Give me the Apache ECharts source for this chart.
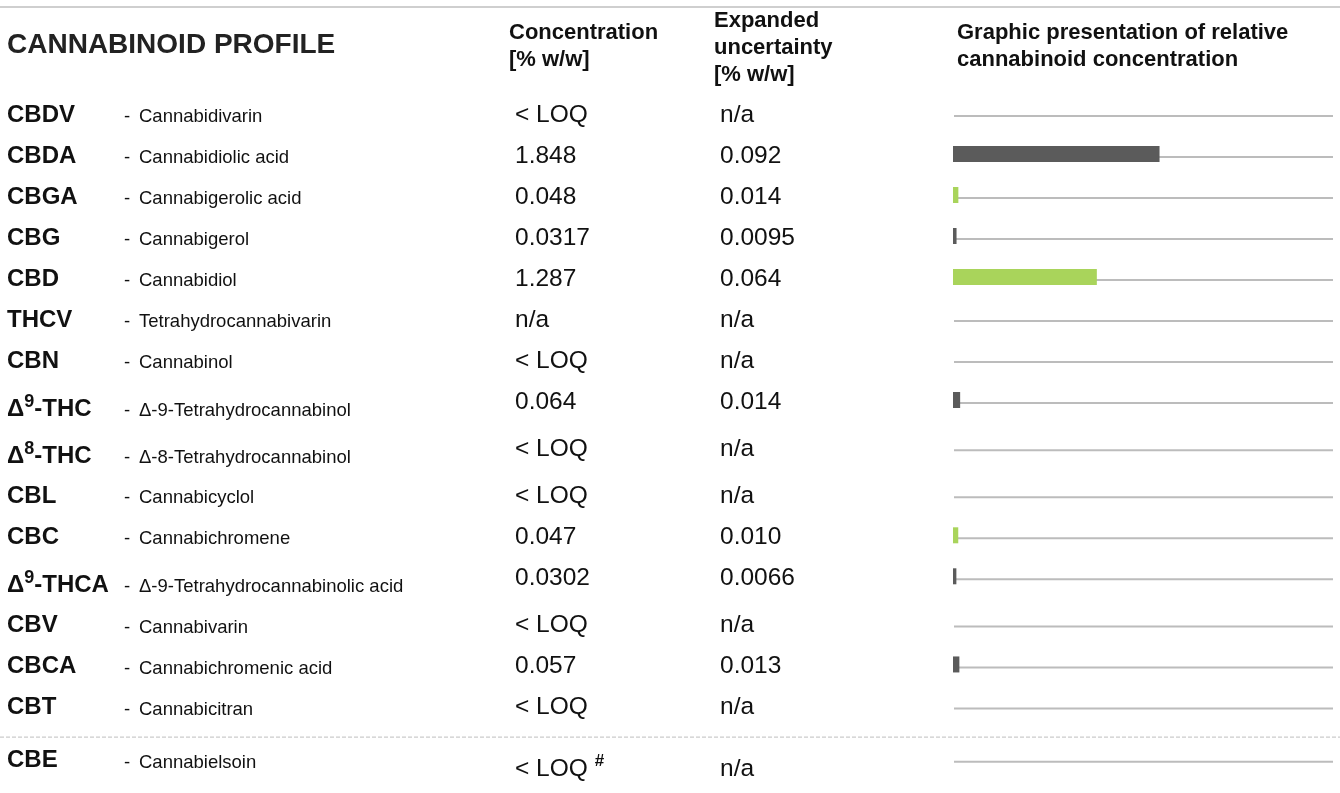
<!DOCTYPE html>
<html>
<head>
<meta charset="utf-8">
<title>Cannabinoid profile</title>
<script src="https://cdn.jsdelivr.net/npm/echarts@6/dist/echarts.min.js"></script>
<style>
html, body { margin: 0; padding: 0; background: #fff; }
#chart { width: 1340px; height: 793px; }
</style>
</head>
<body>
<div id="chart"></div>
<script>
const codes = ['CBDV', 'CBDA', 'CBGA', 'CBG', 'CBD', 'THCV', 'CBN', 'Δ9-THC', 'Δ8-THC', 'CBL', 'CBC', 'Δ9-THCA', 'CBV', 'CBCA', 'CBT', 'CBE']
const names = ['Cannabidivarin', 'Cannabidiolic acid', 'Cannabigerolic acid', 'Cannabigerol', 'Cannabidiol',
  'Tetrahydrocannabivarin', 'Cannabinol', 'Δ-9-Tetrahydrocannabinol', 'Δ-8-Tetrahydrocannabinol', 'Cannabicyclol',
  'Cannabichromene', 'Δ-9-Tetrahydrocannabinolic acid', 'Cannabivarin', 'Cannabichromenic acid', 'Cannabicitran', 'Cannabielsoin']
const concentrationText = ['< LOQ', '1.848', '0.048', '0.0317', '1.287', 'n/a', '< LOQ', '0.064', '< LOQ', '< LOQ',
  '0.047', '0.0302', '< LOQ', '0.057', '< LOQ', '< LOQ #']
const uncertaintyText = ['n/a', '0.092', '0.014', '0.0095', '0.064', 'n/a', 'n/a', '0.014', 'n/a', 'n/a',
  '0.010', '0.0066', 'n/a', '0.013', 'n/a', 'n/a']
// numeric concentration [% w/w], null = not quantified
const concentration = [null, 1.848, 0.048, 0.0317, 1.287, null, null, 0.064, null, null, 0.047, 0.0302, null, 0.057, null, null]
const greenCodes = ['CBGA', 'CBD', 'CBC']

const FONT = '"Liberation Sans", Arial, Helvetica, sans-serif'
const TEXT = '#111'

// rows with a superscript code are a bit taller, the last row sits below a separator
const supCode = c => /Δ\d/.test(c)
const slots = []
let pos = 0
codes.forEach((c, i) => {
  if (i === codes.length - 1) pos += 0.3
  slots.push(pos)
  pos += supCode(c) ? 1.15 : 1
})

// turn "Δ9-THC" / "< LOQ #" into rich text with a raised part
function richCode(c) {
  return c.replace(/Δ(\d)/, 'Δ{sup|$1}')
}
function richValue(v) {
  return v.replace(/ #$/, ' {sup|#}')
}

const myChart = echarts.init(document.getElementById('chart'))

const option = {
  animation: false,
  backgroundColor: '#fff',
  grid: { left: 953, right: 7, top: 116, height: 656 },
  xAxis: { type: 'value', min: 0, max: 3.4, show: false },
  yAxis: { type: 'value', min: 0, max: 16, inverse: true, show: false },
  graphic: [
    { type: 'line', shape: { x1: 0, y1: 7, x2: 1340, y2: 7 }, style: { stroke: '#cfcfcf', lineWidth: 2 } },
    { type: 'text', x: 7, y: 45, style: { text: 'CANNABINOID PROFILE', font: 'bold 28px ' + FONT, fill: '#222', verticalAlign: 'middle' } },
    { type: 'text', x: 509, y: 19, style: { text: 'Concentration\n[% w/w]', font: 'bold 22px ' + FONT, lineHeight: 27, fill: TEXT } },
    { type: 'text', x: 714, y: 7, style: { text: 'Expanded\nuncertainty\n[% w/w]', font: 'bold 22px ' + FONT, lineHeight: 27, fill: TEXT } },
    { type: 'text', x: 957, y: 19, style: { text: 'Graphic presentation of relative\ncannabinoid concentration', font: 'bold 22px ' + FONT, lineHeight: 27, fill: TEXT } }
  ],
  series: [
    {
      name: 'bars',
      type: 'custom',
      data: slots.map((s, i) => [concentration[i] || 0, s]),
      renderItem(params, api) {
        const i = params.dataIndex
        const p = api.coord([0, api.value(1)])
        const xEnd = params.coordSys.x + params.coordSys.width
        const children = [{
          type: 'line',
          shape: { x1: p[0] + 1, y1: p[1], x2: xEnd, y2: p[1] },
          style: { stroke: '#bcbcbc', lineWidth: 2 }
        }]
        if (concentration[i] != null) {
          const w = api.size([concentration[i], 0])[0]
          children.push({
            type: 'rect',
            shape: { x: p[0], y: p[1] - 11, width: w, height: 16 },
            style: { fill: greenCodes.includes(codes[i]) ? '#a9d45b' : '#5b5b5b' }
          })
        }
        return { type: 'group', children }
      }
    },
    {
      name: 'table',
      type: 'custom',
      data: slots.map(s => [0, s]),
      renderItem(params, api) {
        const i = params.dataIndex
        const y = api.coord([0, api.value(1)])[1]
        const codeShift = supCode(codes[i]) ? 7 : 0
        const valShift = /#/.test(concentrationText[i]) ? 8 : 0
        const sup = { fontSize: 18, fontWeight: 'bold', fontFamily: FONT, lineHeight: 18, verticalAlign: 'top' }
        const children = [
          {
            type: 'text', x: 7, y: y - 1 + codeShift,
            style: {
              text: richCode(codes[i]), fontSize: 24, fontWeight: 'bold', fontFamily: FONT, lineHeight: 32,
              fill: TEXT, verticalAlign: 'middle', rich: { sup }
            }
          },
          {
            type: 'text', x: 124, y: y + 1 + codeShift,
            style: { text: '-', fontSize: 18.5, fontFamily: FONT, fill: TEXT, verticalAlign: 'middle' }
          },
          {
            type: 'text', x: 139, y: y + 1 + codeShift,
            style: { text: names[i], fontSize: 18.5, fontFamily: FONT, fill: TEXT, verticalAlign: 'middle' }
          },
          {
            type: 'text', x: 515, y: y - 1 + valShift,
            style: {
              text: richValue(concentrationText[i]), fontSize: 24.5, fontFamily: FONT, lineHeight: 32,
              fill: TEXT, verticalAlign: 'middle', rich: { sup: Object.assign({}, sup, { fontSize: 17 }) }
            }
          },
          {
            type: 'text', x: 720, y: y - 1 + valShift,
            style: { text: uncertaintyText[i], fontSize: 24.5, fontFamily: FONT, fill: TEXT, verticalAlign: 'middle' }
          }
        ]
        // dotted separator above the footnote row
        if (i === codes.length - 1) {
          const ySep = api.coord([0, api.value(1) - 0.6])[1]
          children.push({
            type: 'line',
            shape: { x1: 0, y1: ySep, x2: 1340, y2: ySep },
            style: { stroke: '#cccccc', lineWidth: 1.2, lineDash: [4, 2] }
          })
        }
        return { type: 'group', children }
      }
    }
  ]
}

myChart.setOption(option)
window.addEventListener('resize', () => { myChart.resize() })
</script>
</body>
</html>
